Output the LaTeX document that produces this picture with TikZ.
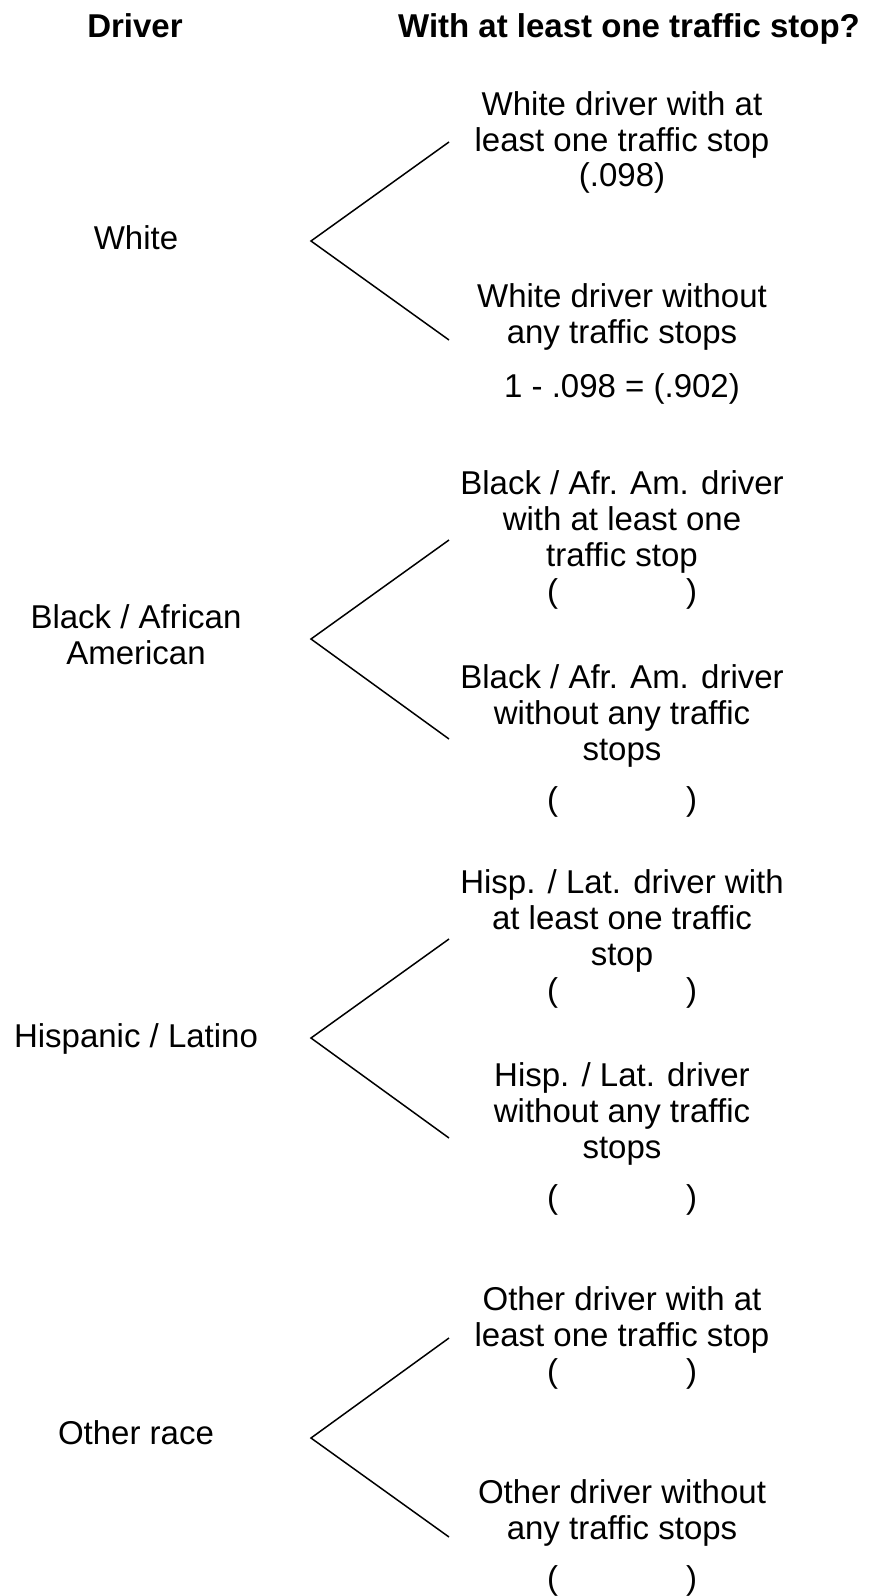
\documentclass[tikz,border=0pt]{standalone}
\usepackage{fontspec}
\setmainfont{Liberation Sans}
\usepackage{tikz}

\newcommand{\lnstrut}{\rule{0pt}{25pt}}
\newcommand{\emptyval}{(\hspace{128pt})}

\tikzset{
  lbl/.style={font=\fontsize{33}{35.8}\selectfont, align=center, inner sep=0pt},
  hdr/.style={lbl, font=\fontsize{33}{35.8}\selectfont\bfseries, anchor=base},
  race/.style={lbl, anchor=base},
  leaf/.style={lbl, anchor=north},
  branch/.style={line width=1.5pt}
}

\begin{document}
\begin{tikzpicture}[x=1pt, y=-1pt]
\useasboundingbox (0,0) rectangle (874,1596);

\node[hdr] (hdriver) at (135,37) {Driver};
\node[hdr] (hstop) at (629,37) {With at least one traffic stop?};

% White
\node[race] (white) at (136,249.5) {White};
\coordinate (wv) at (311,241);
\coordinate (wu) at (449,142);
\coordinate (wd) at (449,340);
\draw[branch] (wu) -- (wv) -- (wd);
\node[leaf] (wyes) at (622,90) {\lnstrut White driver with at\\least one traffic stop\\(.098)};
\node[leaf] (wno) at (622,282.5) {\lnstrut White driver without\\any traffic stops\\[18pt]1 - .098 = (.902)};

% Black / African American
\node[lbl, anchor=north] (black) at (136,603.5) {\lnstrut Black / African\\American};
\coordinate (bv) at (311,639);
\coordinate (bu) at (449,540);
\coordinate (bd) at (449,739);
\draw[branch] (bu) -- (bv) -- (bd);
\node[leaf] (byes) at (622,469.5) {\lnstrut Black / Afr. Am. driver\\with at least one\\traffic stop\\\emptyval};
\node[leaf] (bno) at (622,663.5) {\lnstrut Black / Afr. Am. driver\\without any traffic\\stops\\[14pt]\emptyval};

% Hispanic / Latino
\node[race] (hisp) at (136,1047.5) {Hispanic / Latino};
\coordinate (hv) at (311,1038);
\coordinate (hu) at (449,939);
\coordinate (hd) at (449,1138);
\draw[branch] (hu) -- (hv) -- (hd);
\node[leaf] (hyes) at (622,868.5) {\lnstrut Hisp. / Lat. driver with\\at least one traffic\\stop\\\emptyval};
\node[leaf] (hno) at (622,1061.5) {\lnstrut Hisp. / Lat. driver\\without any traffic\\stops\\[14pt]\emptyval};

% Other race
\node[race] (other) at (136,1444) {Other race};
\coordinate (ov) at (311,1438);
\coordinate (ou) at (449,1338);
\coordinate (od) at (449,1537);
\draw[branch] (ou) -- (ov) -- (od);
\node[leaf] (oyes) at (622,1285.5) {\lnstrut Other driver with at\\least one traffic stop\\\emptyval};
\node[leaf] (ono) at (622,1478.5) {\lnstrut Other driver without\\any traffic stops\\[14pt]\emptyval};
\end{tikzpicture}
\end{document}
